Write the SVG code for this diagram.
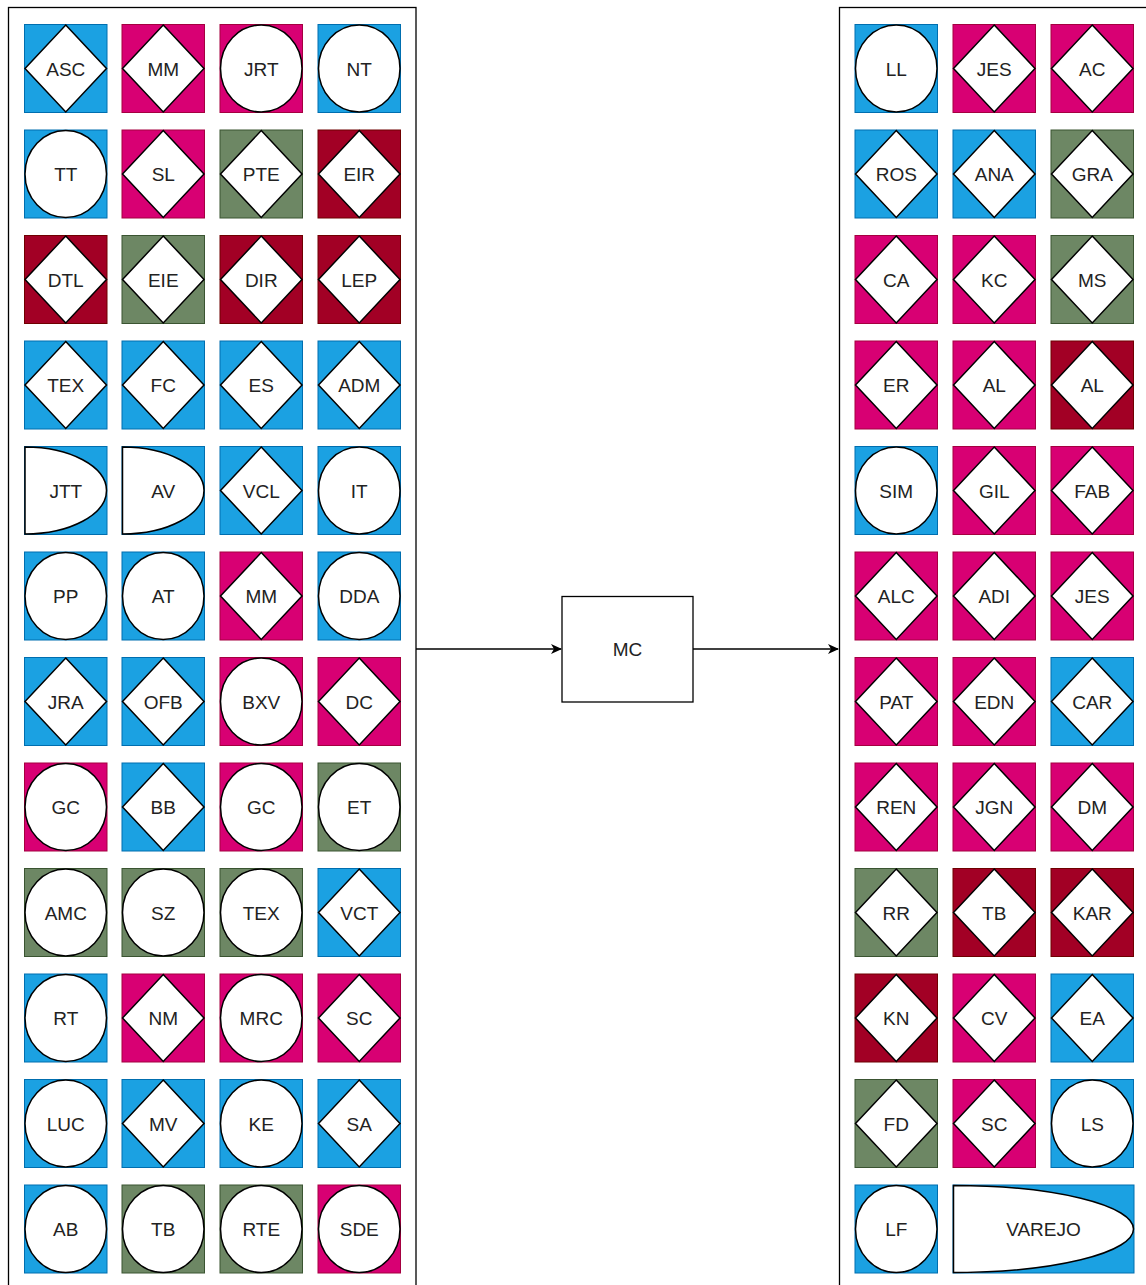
<svg xmlns="http://www.w3.org/2000/svg" xmlns:xlink="http://www.w3.org/1999/xlink" width="1146" height="1285" viewBox="0 0 1146 1285">
<style>
.bg{stroke-width:1}
.b{fill:#1BA1E2;stroke:#006EAF}
.p{fill:#D80073;stroke:#A50040}
.r{fill:#A20025;stroke:#6F0000}
.g{fill:#6D8764;stroke:#3A5431}
.sh{fill:#fff;stroke:#000;stroke-width:1.5}
.t{font-family:"Liberation Sans",Arial,sans-serif;font-size:19px;fill:#222;text-anchor:middle}
.box{fill:none;stroke:#000;stroke-width:1.3}
.mc{fill:#fff;stroke:#000;stroke-width:1.3}
.ln{fill:none;stroke:#000;stroke-width:1.5}
</style>
<defs>
<polygon id="dia" points="41.25,0.5 82,44 41.25,87.5 0.5,44"/>
<ellipse id="cir" cx="41.25" cy="44" rx="40.75" ry="43.5"/>
<path id="half" d="M0.5,0.5 A81.5,43.5 0 0 1 82,44 A81.5,43.5 0 0 1 0.5,87.5 Z"/>
<marker id="arr" markerWidth="12" markerHeight="12" refX="10" refY="5" orient="auto" markerUnits="userSpaceOnUse" viewBox="0 0 12 10">
<path d="M0,0 L11,5 L0,10 L3,5 Z" fill="#000"/>
</marker>
</defs>
<rect id="left-container" class="box" x="8.5" y="7.5" width="407.5" height="1300"/>
<rect id="right-container" class="box" x="839.5" y="7.5" width="330" height="1300"/>
<g id="connectors">
<line class="ln" x1="416" y1="649" x2="561" y2="649" marker-end="url(#arr)"/>
<line class="ln" x1="693" y1="649" x2="838" y2="649" marker-end="url(#arr)"/>
</g>
<g id="mc"><rect class="mc" x="562" y="596.5" width="131" height="105.5"/><text class="t" x="627.5" y="656">MC</text></g>

<!-- Left grid -->
<g id="L1-1" transform="translate(24.5,24.5)"><rect class="bg b" x="0" y="0" width="82.5" height="88"/><use href="#dia" class="sh"/><text class="t" x="41.25" y="51">ASC</text></g>
<g id="L1-2" transform="translate(122,24.5)"><rect class="bg p" x="0" y="0" width="82.5" height="88"/><use href="#dia" class="sh"/><text class="t" x="41.25" y="51">MM</text></g>
<g id="L1-3" transform="translate(220,24.5)"><rect class="bg p" x="0" y="0" width="82.5" height="88"/><use href="#cir" class="sh"/><text class="t" x="41.25" y="51">JRT</text></g>
<g id="L1-4" transform="translate(318,24.5)"><rect class="bg b" x="0" y="0" width="82.5" height="88"/><use href="#cir" class="sh"/><text class="t" x="41.25" y="51">NT</text></g>

<g id="L2-1" transform="translate(24.5,130)"><rect class="bg b" x="0" y="0" width="82.5" height="88"/><use href="#cir" class="sh"/><text class="t" x="41.25" y="51">TT</text></g>
<g id="L2-2" transform="translate(122,130)"><rect class="bg p" x="0" y="0" width="82.5" height="88"/><use href="#dia" class="sh"/><text class="t" x="41.25" y="51">SL</text></g>
<g id="L2-3" transform="translate(220,130)"><rect class="bg g" x="0" y="0" width="82.5" height="88"/><use href="#dia" class="sh"/><text class="t" x="41.25" y="51">PTE</text></g>
<g id="L2-4" transform="translate(318,130)"><rect class="bg r" x="0" y="0" width="82.5" height="88"/><use href="#dia" class="sh"/><text class="t" x="41.25" y="51">EIR</text></g>

<g id="L3-1" transform="translate(24.5,235.5)"><rect class="bg r" x="0" y="0" width="82.5" height="88"/><use href="#dia" class="sh"/><text class="t" x="41.25" y="51">DTL</text></g>
<g id="L3-2" transform="translate(122,235.5)"><rect class="bg g" x="0" y="0" width="82.5" height="88"/><use href="#dia" class="sh"/><text class="t" x="41.25" y="51">EIE</text></g>
<g id="L3-3" transform="translate(220,235.5)"><rect class="bg r" x="0" y="0" width="82.5" height="88"/><use href="#dia" class="sh"/><text class="t" x="41.25" y="51">DIR</text></g>
<g id="L3-4" transform="translate(318,235.5)"><rect class="bg r" x="0" y="0" width="82.5" height="88"/><use href="#dia" class="sh"/><text class="t" x="41.25" y="51">LEP</text></g>

<g id="L4-1" transform="translate(24.5,341)"><rect class="bg b" x="0" y="0" width="82.5" height="88"/><use href="#dia" class="sh"/><text class="t" x="41.25" y="51">TEX</text></g>
<g id="L4-2" transform="translate(122,341)"><rect class="bg b" x="0" y="0" width="82.5" height="88"/><use href="#dia" class="sh"/><text class="t" x="41.25" y="51">FC</text></g>
<g id="L4-3" transform="translate(220,341)"><rect class="bg b" x="0" y="0" width="82.5" height="88"/><use href="#dia" class="sh"/><text class="t" x="41.25" y="51">ES</text></g>
<g id="L4-4" transform="translate(318,341)"><rect class="bg b" x="0" y="0" width="82.5" height="88"/><use href="#dia" class="sh"/><text class="t" x="41.25" y="51">ADM</text></g>

<g id="L5-1" transform="translate(24.5,446.5)"><rect class="bg b" x="0" y="0" width="82.5" height="88"/><use href="#half" class="sh"/><text class="t" x="41.25" y="51">JTT</text></g>
<g id="L5-2" transform="translate(122,446.5)"><rect class="bg b" x="0" y="0" width="82.5" height="88"/><use href="#half" class="sh"/><text class="t" x="41.25" y="51">AV</text></g>
<g id="L5-3" transform="translate(220,446.5)"><rect class="bg b" x="0" y="0" width="82.5" height="88"/><use href="#dia" class="sh"/><text class="t" x="41.25" y="51">VCL</text></g>
<g id="L5-4" transform="translate(318,446.5)"><rect class="bg b" x="0" y="0" width="82.5" height="88"/><use href="#cir" class="sh"/><text class="t" x="41.25" y="51">IT</text></g>

<g id="L6-1" transform="translate(24.5,552)"><rect class="bg b" x="0" y="0" width="82.5" height="88"/><use href="#cir" class="sh"/><text class="t" x="41.25" y="51">PP</text></g>
<g id="L6-2" transform="translate(122,552)"><rect class="bg b" x="0" y="0" width="82.5" height="88"/><use href="#cir" class="sh"/><text class="t" x="41.25" y="51">AT</text></g>
<g id="L6-3" transform="translate(220,552)"><rect class="bg p" x="0" y="0" width="82.5" height="88"/><use href="#dia" class="sh"/><text class="t" x="41.25" y="51">MM</text></g>
<g id="L6-4" transform="translate(318,552)"><rect class="bg b" x="0" y="0" width="82.5" height="88"/><use href="#cir" class="sh"/><text class="t" x="41.25" y="51">DDA</text></g>

<g id="L7-1" transform="translate(24.5,657.5)"><rect class="bg b" x="0" y="0" width="82.5" height="88"/><use href="#dia" class="sh"/><text class="t" x="41.25" y="51">JRA</text></g>
<g id="L7-2" transform="translate(122,657.5)"><rect class="bg b" x="0" y="0" width="82.5" height="88"/><use href="#dia" class="sh"/><text class="t" x="41.25" y="51">OFB</text></g>
<g id="L7-3" transform="translate(220,657.5)"><rect class="bg p" x="0" y="0" width="82.5" height="88"/><use href="#cir" class="sh"/><text class="t" x="41.25" y="51">BXV</text></g>
<g id="L7-4" transform="translate(318,657.5)"><rect class="bg p" x="0" y="0" width="82.5" height="88"/><use href="#dia" class="sh"/><text class="t" x="41.25" y="51">DC</text></g>

<g id="L8-1" transform="translate(24.5,763)"><rect class="bg p" x="0" y="0" width="82.5" height="88"/><use href="#cir" class="sh"/><text class="t" x="41.25" y="51">GC</text></g>
<g id="L8-2" transform="translate(122,763)"><rect class="bg b" x="0" y="0" width="82.5" height="88"/><use href="#dia" class="sh"/><text class="t" x="41.25" y="51">BB</text></g>
<g id="L8-3" transform="translate(220,763)"><rect class="bg p" x="0" y="0" width="82.5" height="88"/><use href="#cir" class="sh"/><text class="t" x="41.25" y="51">GC</text></g>
<g id="L8-4" transform="translate(318,763)"><rect class="bg g" x="0" y="0" width="82.5" height="88"/><use href="#cir" class="sh"/><text class="t" x="41.25" y="51">ET</text></g>

<g id="L9-1" transform="translate(24.5,868.5)"><rect class="bg g" x="0" y="0" width="82.5" height="88"/><use href="#cir" class="sh"/><text class="t" x="41.25" y="51">AMC</text></g>
<g id="L9-2" transform="translate(122,868.5)"><rect class="bg g" x="0" y="0" width="82.5" height="88"/><use href="#cir" class="sh"/><text class="t" x="41.25" y="51">SZ</text></g>
<g id="L9-3" transform="translate(220,868.5)"><rect class="bg g" x="0" y="0" width="82.5" height="88"/><use href="#cir" class="sh"/><text class="t" x="41.25" y="51">TEX</text></g>
<g id="L9-4" transform="translate(318,868.5)"><rect class="bg b" x="0" y="0" width="82.5" height="88"/><use href="#dia" class="sh"/><text class="t" x="41.25" y="51">VCT</text></g>

<g id="L10-1" transform="translate(24.5,974)"><rect class="bg b" x="0" y="0" width="82.5" height="88"/><use href="#cir" class="sh"/><text class="t" x="41.25" y="51">RT</text></g>
<g id="L10-2" transform="translate(122,974)"><rect class="bg p" x="0" y="0" width="82.5" height="88"/><use href="#dia" class="sh"/><text class="t" x="41.25" y="51">NM</text></g>
<g id="L10-3" transform="translate(220,974)"><rect class="bg p" x="0" y="0" width="82.5" height="88"/><use href="#cir" class="sh"/><text class="t" x="41.25" y="51">MRC</text></g>
<g id="L10-4" transform="translate(318,974)"><rect class="bg p" x="0" y="0" width="82.5" height="88"/><use href="#dia" class="sh"/><text class="t" x="41.25" y="51">SC</text></g>

<g id="L11-1" transform="translate(24.5,1079.5)"><rect class="bg b" x="0" y="0" width="82.5" height="88"/><use href="#cir" class="sh"/><text class="t" x="41.25" y="51">LUC</text></g>
<g id="L11-2" transform="translate(122,1079.5)"><rect class="bg b" x="0" y="0" width="82.5" height="88"/><use href="#dia" class="sh"/><text class="t" x="41.25" y="51">MV</text></g>
<g id="L11-3" transform="translate(220,1079.5)"><rect class="bg b" x="0" y="0" width="82.5" height="88"/><use href="#cir" class="sh"/><text class="t" x="41.25" y="51">KE</text></g>
<g id="L11-4" transform="translate(318,1079.5)"><rect class="bg b" x="0" y="0" width="82.5" height="88"/><use href="#dia" class="sh"/><text class="t" x="41.25" y="51">SA</text></g>

<g id="L12-1" transform="translate(24.5,1185)"><rect class="bg b" x="0" y="0" width="82.5" height="88"/><use href="#cir" class="sh"/><text class="t" x="41.25" y="51">AB</text></g>
<g id="L12-2" transform="translate(122,1185)"><rect class="bg g" x="0" y="0" width="82.5" height="88"/><use href="#cir" class="sh"/><text class="t" x="41.25" y="51">TB</text></g>
<g id="L12-3" transform="translate(220,1185)"><rect class="bg g" x="0" y="0" width="82.5" height="88"/><use href="#cir" class="sh"/><text class="t" x="41.25" y="51">RTE</text></g>
<g id="L12-4" transform="translate(318,1185)"><rect class="bg p" x="0" y="0" width="82.5" height="88"/><use href="#cir" class="sh"/><text class="t" x="41.25" y="51">SDE</text></g>

<!-- Right grid -->
<g id="R1-1" transform="translate(855,24.5)"><rect class="bg b" x="0" y="0" width="82.5" height="88"/><use href="#cir" class="sh"/><text class="t" x="41.25" y="51">LL</text></g>
<g id="R1-2" transform="translate(953,24.5)"><rect class="bg p" x="0" y="0" width="82.5" height="88"/><use href="#dia" class="sh"/><text class="t" x="41.25" y="51">JES</text></g>
<g id="R1-3" transform="translate(1051,24.5)"><rect class="bg p" x="0" y="0" width="82.5" height="88"/><use href="#dia" class="sh"/><text class="t" x="41.25" y="51">AC</text></g>

<g id="R2-1" transform="translate(855,130)"><rect class="bg b" x="0" y="0" width="82.5" height="88"/><use href="#dia" class="sh"/><text class="t" x="41.25" y="51">ROS</text></g>
<g id="R2-2" transform="translate(953,130)"><rect class="bg b" x="0" y="0" width="82.5" height="88"/><use href="#dia" class="sh"/><text class="t" x="41.25" y="51">ANA</text></g>
<g id="R2-3" transform="translate(1051,130)"><rect class="bg g" x="0" y="0" width="82.5" height="88"/><use href="#dia" class="sh"/><text class="t" x="41.25" y="51">GRA</text></g>

<g id="R3-1" transform="translate(855,235.5)"><rect class="bg p" x="0" y="0" width="82.5" height="88"/><use href="#dia" class="sh"/><text class="t" x="41.25" y="51">CA</text></g>
<g id="R3-2" transform="translate(953,235.5)"><rect class="bg p" x="0" y="0" width="82.5" height="88"/><use href="#dia" class="sh"/><text class="t" x="41.25" y="51">KC</text></g>
<g id="R3-3" transform="translate(1051,235.5)"><rect class="bg g" x="0" y="0" width="82.5" height="88"/><use href="#dia" class="sh"/><text class="t" x="41.25" y="51">MS</text></g>

<g id="R4-1" transform="translate(855,341)"><rect class="bg p" x="0" y="0" width="82.5" height="88"/><use href="#dia" class="sh"/><text class="t" x="41.25" y="51">ER</text></g>
<g id="R4-2" transform="translate(953,341)"><rect class="bg p" x="0" y="0" width="82.5" height="88"/><use href="#dia" class="sh"/><text class="t" x="41.25" y="51">AL</text></g>
<g id="R4-3" transform="translate(1051,341)"><rect class="bg r" x="0" y="0" width="82.5" height="88"/><use href="#dia" class="sh"/><text class="t" x="41.25" y="51">AL</text></g>

<g id="R5-1" transform="translate(855,446.5)"><rect class="bg b" x="0" y="0" width="82.5" height="88"/><use href="#cir" class="sh"/><text class="t" x="41.25" y="51">SIM</text></g>
<g id="R5-2" transform="translate(953,446.5)"><rect class="bg p" x="0" y="0" width="82.5" height="88"/><use href="#dia" class="sh"/><text class="t" x="41.25" y="51">GIL</text></g>
<g id="R5-3" transform="translate(1051,446.5)"><rect class="bg p" x="0" y="0" width="82.5" height="88"/><use href="#dia" class="sh"/><text class="t" x="41.25" y="51">FAB</text></g>

<g id="R6-1" transform="translate(855,552)"><rect class="bg p" x="0" y="0" width="82.5" height="88"/><use href="#dia" class="sh"/><text class="t" x="41.25" y="51">ALC</text></g>
<g id="R6-2" transform="translate(953,552)"><rect class="bg p" x="0" y="0" width="82.5" height="88"/><use href="#dia" class="sh"/><text class="t" x="41.25" y="51">ADI</text></g>
<g id="R6-3" transform="translate(1051,552)"><rect class="bg p" x="0" y="0" width="82.5" height="88"/><use href="#dia" class="sh"/><text class="t" x="41.25" y="51">JES</text></g>

<g id="R7-1" transform="translate(855,657.5)"><rect class="bg p" x="0" y="0" width="82.5" height="88"/><use href="#dia" class="sh"/><text class="t" x="41.25" y="51">PAT</text></g>
<g id="R7-2" transform="translate(953,657.5)"><rect class="bg p" x="0" y="0" width="82.5" height="88"/><use href="#dia" class="sh"/><text class="t" x="41.25" y="51">EDN</text></g>
<g id="R7-3" transform="translate(1051,657.5)"><rect class="bg b" x="0" y="0" width="82.5" height="88"/><use href="#dia" class="sh"/><text class="t" x="41.25" y="51">CAR</text></g>

<g id="R8-1" transform="translate(855,763)"><rect class="bg p" x="0" y="0" width="82.5" height="88"/><use href="#dia" class="sh"/><text class="t" x="41.25" y="51">REN</text></g>
<g id="R8-2" transform="translate(953,763)"><rect class="bg p" x="0" y="0" width="82.5" height="88"/><use href="#dia" class="sh"/><text class="t" x="41.25" y="51">JGN</text></g>
<g id="R8-3" transform="translate(1051,763)"><rect class="bg p" x="0" y="0" width="82.5" height="88"/><use href="#dia" class="sh"/><text class="t" x="41.25" y="51">DM</text></g>

<g id="R9-1" transform="translate(855,868.5)"><rect class="bg g" x="0" y="0" width="82.5" height="88"/><use href="#dia" class="sh"/><text class="t" x="41.25" y="51">RR</text></g>
<g id="R9-2" transform="translate(953,868.5)"><rect class="bg r" x="0" y="0" width="82.5" height="88"/><use href="#dia" class="sh"/><text class="t" x="41.25" y="51">TB</text></g>
<g id="R9-3" transform="translate(1051,868.5)"><rect class="bg r" x="0" y="0" width="82.5" height="88"/><use href="#dia" class="sh"/><text class="t" x="41.25" y="51">KAR</text></g>

<g id="R10-1" transform="translate(855,974)"><rect class="bg r" x="0" y="0" width="82.5" height="88"/><use href="#dia" class="sh"/><text class="t" x="41.25" y="51">KN</text></g>
<g id="R10-2" transform="translate(953,974)"><rect class="bg p" x="0" y="0" width="82.5" height="88"/><use href="#dia" class="sh"/><text class="t" x="41.25" y="51">CV</text></g>
<g id="R10-3" transform="translate(1051,974)"><rect class="bg b" x="0" y="0" width="82.5" height="88"/><use href="#dia" class="sh"/><text class="t" x="41.25" y="51">EA</text></g>

<g id="R11-1" transform="translate(855,1079.5)"><rect class="bg g" x="0" y="0" width="82.5" height="88"/><use href="#dia" class="sh"/><text class="t" x="41.25" y="51">FD</text></g>
<g id="R11-2" transform="translate(953,1079.5)"><rect class="bg p" x="0" y="0" width="82.5" height="88"/><use href="#dia" class="sh"/><text class="t" x="41.25" y="51">SC</text></g>
<g id="R11-3" transform="translate(1051,1079.5)"><rect class="bg b" x="0" y="0" width="82.5" height="88"/><use href="#cir" class="sh"/><text class="t" x="41.25" y="51">LS</text></g>

<g id="R12-1" transform="translate(855,1185)"><rect class="bg b" x="0" y="0" width="82.5" height="88"/><use href="#cir" class="sh"/><text class="t" x="41.25" y="51">LF</text></g>
<g id="R12-2" transform="translate(953,1185)"><rect class="bg b" x="0" y="0" width="181" height="88"/><path class="sh" d="M0.5,0.5 A180,43.5 0 0 1 180.5,44 A180,43.5 0 0 1 0.5,87.5 Z"/><text class="t" x="90.5" y="51">VAREJO</text></g>
</svg>
